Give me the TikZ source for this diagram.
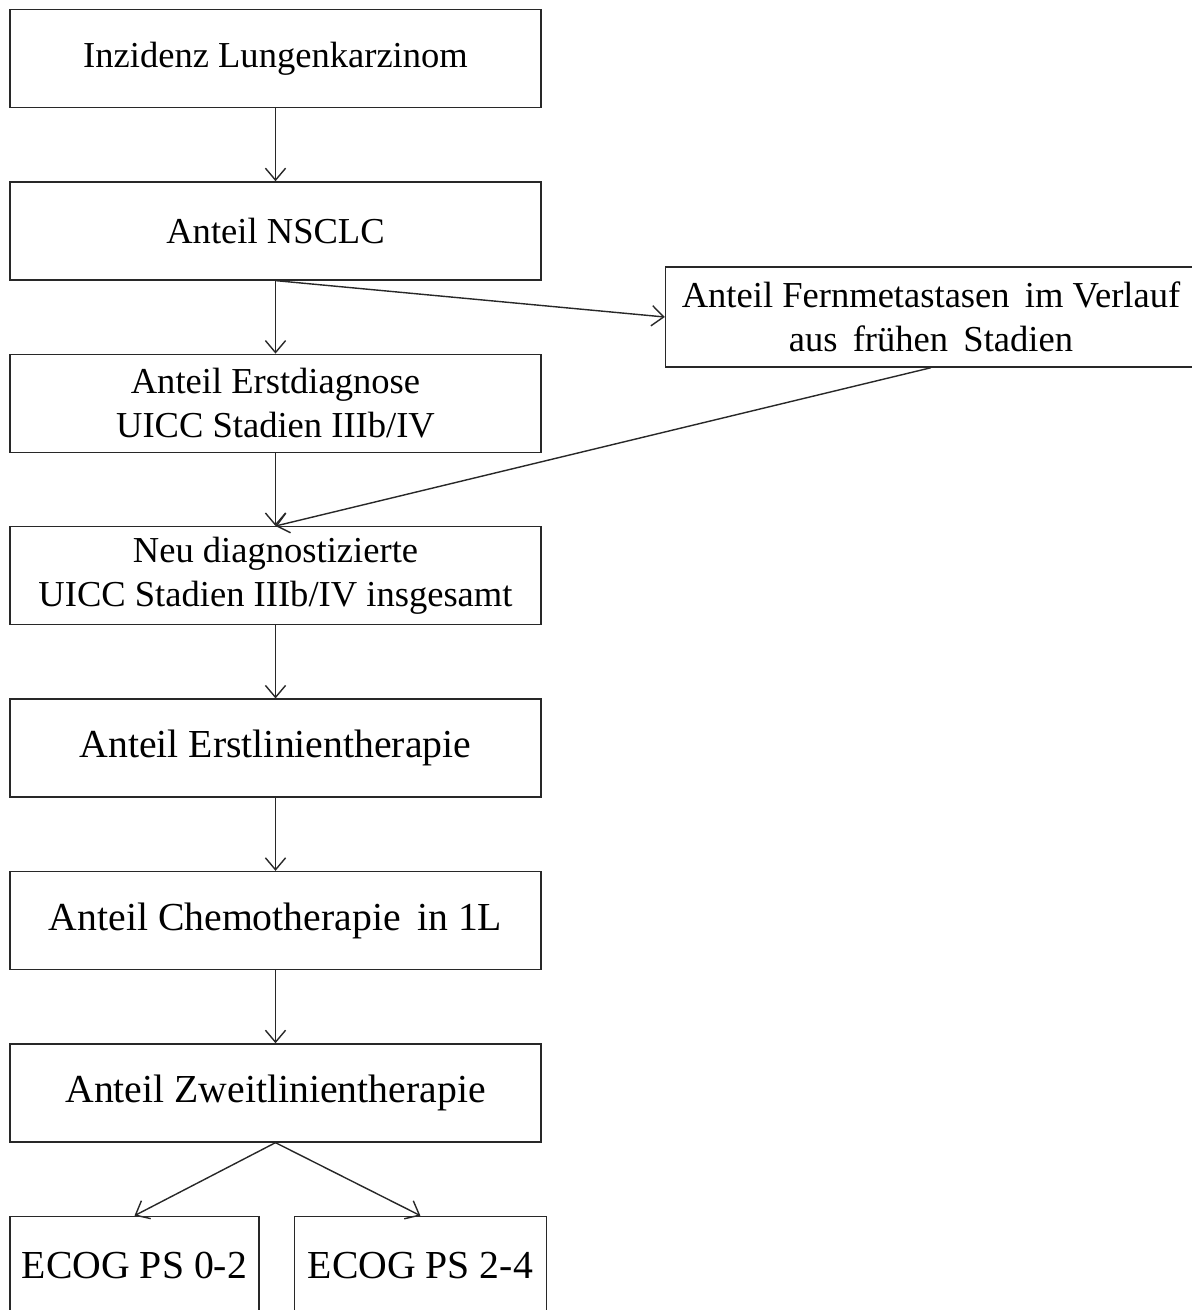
\documentclass[tikz,border=0pt]{standalone}
\usepackage{fontspec}
\setmainfont{Liberation Serif}
\usepackage{xcolor}
\usepackage{tikz}
\usetikzlibrary{arrows.meta, positioning}
\definecolor{FlowLine}{RGB}{40, 40, 40}

\begin{document}
\begin{tikzpicture}[
    flowbox/.style={draw=FlowLine, line width=0.8pt, fill=white, minimum width=10.62cm,
                    minimum height=1.96cm, align=center, inner sep=1mm,
                    font=\fontsize{20.8}{25}\selectfont},
    bigbox/.style={flowbox, font=\fontsize{22.6}{27}\selectfont},
    ecogbox/.style={bigbox, minimum width=4.98cm},
    flowarrow/.style={draw=FlowLine, line width=0.8pt, -{Straight Barb[length=6.8pt, width=11.5pt]}}
  ]
  \useasboundingbox (0,0) rectangle (23.84,-26.2);

  \node[flowbox] (inzidenz) at (5.51,-1.17) {Inzidenz Lungenkarzinom};
  \node[flowbox, below=1.46cm of inzidenz] (nsclc) {Anteil NSCLC};
  \node[flowbox, below=1.46cm of nsclc] (erstdiag) {Anteil Erstdiagnose\\UICC Stadien IIIb/IV};
  \node[flowbox, below=1.46cm of erstdiag] (neudiag) {Neu diagnostizierte\\UICC Stadien IIIb/IV insgesamt};
  \node[bigbox, below=1.46cm of neudiag] (erstlinie) {Anteil Erstlinientherapie};
  \node[bigbox, below=1.46cm of erstlinie] (chemo) {Anteil Chemotherapie\, in 1L};
  \node[bigbox, below=1.46cm of chemo] (zweitlinie) {Anteil Zweitlinientherapie};
  \node[ecogbox, below right=1.46cm and 0cm of zweitlinie.south west] (ecoglow) {ECOG PS 0-2};
  \node[ecogbox, minimum width=5.04cm, right=0.68cm of ecoglow] (ecoghigh) {ECOG PS 2-4};
  \node[flowbox, minimum height=2cm] (fernmeta) at (18.62,-6.34)
    {Anteil Fernmetastasen\, im Verlauf\\aus\, frühen\, Stadien};

  \draw[flowarrow] (inzidenz) -- (nsclc);
  \draw[flowarrow] (nsclc) -- (erstdiag);
  \draw[flowarrow] (nsclc.south) -- (fernmeta.west);
  \draw[flowarrow] (erstdiag) -- (neudiag);
  \draw[flowarrow] (fernmeta.south) -- (neudiag.north);
  \draw[flowarrow] (neudiag) -- (erstlinie);
  \draw[flowarrow] (erstlinie) -- (chemo);
  \draw[flowarrow] (chemo) -- (zweitlinie);
  \draw[flowarrow] (zweitlinie.south) -- (ecoglow.north);
  \draw[flowarrow] (zweitlinie.south) -- (ecoghigh.north);
\end{tikzpicture}
\end{document}
